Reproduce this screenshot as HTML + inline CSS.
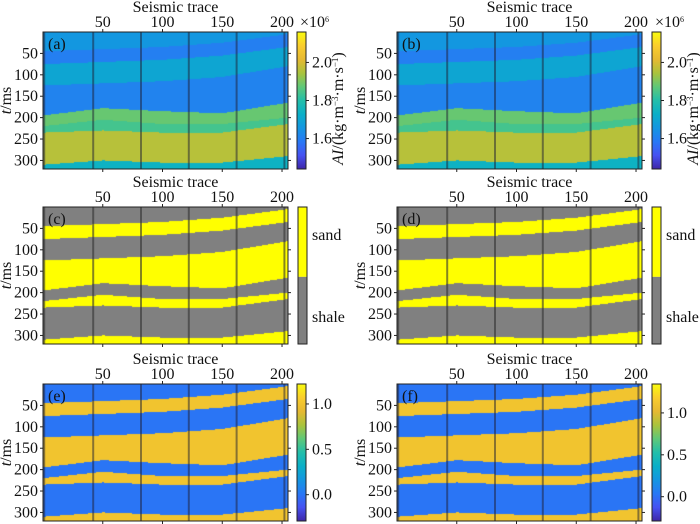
<!DOCTYPE html>
<html><head><meta charset="utf-8"><style>
body{margin:0;width:700px;height:524px;background:#fff;overflow:hidden;position:relative;font-family:"Liberation Serif",serif}
#root{position:absolute;left:0;top:0;width:700px;height:524px}
canvas{position:absolute}
svg{position:absolute;left:0;top:0}
text{font-family:"Liberation Serif",serif;font-size:16px;fill:#111}
</style></head><body>
<div id="root"></div>
<script>
// ---- data ----
const ctrlTraces=[0,50,100,150,205];
const b1=[45,40,35,25,5];
const b2=[75,70,65,55,35];
const b3=[125,120,115,105,80];
const b4=[195,178,185,190,165];
const b5=[220,205,215,215,200];
const b6=[235,230,235,235,215];
const b7=[310,300,305,305,290];
const layerSand=[0,1,0,1,0,1,0,1];
const layerAI=[1.66,1.60,1.70,1.61,1.88,1.84,1.96,1.74];
const layerProb=[0,1,0,1,0,1,0,1];
const wellTraces=[1,42,82,122,162,202];
const xTicks=[50,100,150,200];
const yTicks=[50,100,150,200,250,300];
const aiTicks=[1.6,1.8,2.0];
const probTicks=[0.0,0.5,1.0];
const bounds=[b1,b2,b3,b4,b5,b6,b7];

const parula=[[62,38,168],[70,82,242],[40,120,245],[20,150,225],[10,175,200],[35,190,170],[95,200,120],[170,195,60],[230,185,50],[250,205,45],[249,251,14]];
function cmap(t){t=Math.max(0,Math.min(1,t));const s=t*(parula.length-1);const i=Math.min(parula.length-2,Math.floor(s));const f=s-i;const a=parula[i],b=parula[i+1];return [a[0]+(b[0]-a[0])*f,a[1]+(b[1]-a[1])*f,a[2]+(b[2]-a[2])*f];}
function bAt(arr,tr){for(let i=0;i<ctrlTraces.length-1;i++){if(tr<=ctrlTraces[i+1]){const f=(tr-ctrlTraces[i])/(ctrlTraces[i+1]-ctrlTraces[i]);return arr[i]+(arr[i+1]-arr[i])*f;}}return arr[arr.length-1];}
function layerAt(tr,ms){let k=0;for(const b of bounds){if(ms>bAt(b,tr))k++;}return k;}

const T0=0,T1=205,M0=0,M1=320;
const NS="http://www.w3.org/2000/svg";
const root=document.getElementById('root');
const svg=document.createElementNS(NS,"svg");svg.setAttribute("width",700);svg.setAttribute("height",524);
root.appendChild(svg);
function el(tag,attrs,parent,txt){const e=document.createElementNS(NS,tag);for(const k in attrs)e.setAttribute(k,attrs[k]);if(txt!==undefined)e.textContent=txt;(parent||svg).appendChild(e);return e;}

const panels=[
 {id:'a',x:43,y:32,w:245,h:137,type:'ai',cbx:297,vmin:1.44,vmax:2.16},
 {id:'b',x:397,y:32,w:245,h:137,type:'ai',cbx:652,vmin:1.44,vmax:2.16},
 {id:'c',x:43,y:207,w:245,h:137,type:'lith',cbx:298},
 {id:'d',x:397,y:207,w:245,h:137,type:'lith',cbx:652},
 {id:'e',x:43,y:384,w:245,h:137,type:'prob',cbx:297,vmin:-0.29,vmax:1.22},
 {id:'f',x:397,y:384,w:245,h:137,type:'prob',cbx:652,vmin:-0.29,vmax:1.345}
];

panels.forEach(p=>{
 const xs=t=>p.x+(t-T0)/(T1-T0)*p.w;
 const ys=m=>p.y+(m-M0)/(M1-M0)*p.h;
 const cv=document.createElement('canvas');cv.width=p.w;cv.height=p.h;cv.style.left=p.x+'px';cv.style.top=p.y+'px';
 
 
 root.insertBefore(cv,svg);
 const ctx=cv.getContext('2d');const img=ctx.createImageData(p.w,p.h);
 for(let px=0;px<p.w;px++){const tr=T0+(px+0.5)/p.w*(T1-T0);
  for(let py=0;py<p.h;py++){const ms=M0+(py+0.5)/p.h*(M1-M0);const k=layerAt(tr,ms);let c;
   if(p.type==='ai'){c=cmap((layerAI[k]-p.vmin)/(p.vmax-p.vmin));}
   else if(p.type==='lith'){c=layerSand[k]?[255,255,0]:[128,128,128];}
   else {c=cmap((layerProb[k]-(-0.29))/(1.22-(-0.29)));}
   const o=(py*p.w+px)*4;img.data[o]=c[0];img.data[o+1]=c[1];img.data[o+2]=c[2];img.data[o+3]=255;}}
 ctx.putImageData(img,0,0);
 const g=el('g',{});
 wellTraces.forEach(w=>{const r=el('rect',{x:xs(w)-1,y:p.y,width:2,height:p.h,fill:p.type==='lith'?'rgba(50,50,50,0.6)':'rgba(30,30,50,0.5)'},g);
  
  });
 el('rect',{x:p.x,y:p.y,width:p.w,height:p.h,fill:'none',stroke:'#222','stroke-width':1},g);
 const lt=el('text',{x:p.x+5,y:p.y+17},g,'('+p.id+')');
 
 
 const xt=el('text',{x:p.x+p.w/2+10,y:p.y-20,'text-anchor':'middle'},g,'Seismic trace');
 
 
 xTicks.forEach(t=>{const X=xs(t);
  el('line',{x1:X,x2:X,y1:p.y,y2:p.y-3,stroke:'#222'},g);
  el('line',{x1:X,x2:X,y1:p.y+p.h,y2:p.y+p.h+3,stroke:'#222'},g);
  const tl=el('text',{x:X,y:p.y-5,'text-anchor':'middle'},g,String(t));
  
  });
 yTicks.forEach(t=>{const Y=ys(t);
  el('line',{x1:p.x,x2:p.x-3,y1:Y,y2:Y,stroke:'#222'},g);
  el('line',{x1:p.x+p.w,x2:p.x+p.w+3,y1:Y,y2:Y,stroke:'#222'},g);
  const tl=el('text',{x:p.x-5,y:Y+5,'text-anchor':'end'},g,String(t));
  
  });
 const yl=el('text',{transform:`translate(${p.x-32},${p.y+p.h/2}) rotate(-90)`,'text-anchor':'middle'},g);
 
 
 el('tspan',{'font-style':'italic'},yl,'t');el('tspan',{},yl,'/ms');
 const cb=el('g',{},g);
 const cw=9;
 if(p.type==='lith'){const mid=p.y+p.h*0.51;
  el('rect',{x:p.cbx,y:p.y,width:cw,height:mid-p.y,fill:'#ffff00'},cb);
  el('rect',{x:p.cbx,y:mid,width:cw,height:p.y+p.h-mid,fill:'#808080'},cb);
  el('rect',{x:p.cbx,y:p.y,width:cw,height:p.h,fill:'none',stroke:'#222'},cb);
  el('text',{x:p.cbx+14,y:p.y+33},cb,'sand');el('text',{x:p.cbx+14,y:p.y+115},cb,'shale');
 } else {
  const id='grad'+p.id;const lg=el('linearGradient',{id:id,x1:0,y1:1,x2:0,y2:0},el('defs',{},cb));
  for(let i=0;i<=10;i++){const c=cmap(i/10);el('stop',{offset:i/10,'stop-color':`rgb(${c.map(Math.round).join(',')})`},lg);}
  el('rect',{x:p.cbx,y:p.y,width:cw,height:p.h,fill:`url(#${id})`,stroke:'#222'},cb);
  const ticks=p.type==='ai'?aiTicks:probTicks;
  ticks.forEach(v=>{const Y=p.y+p.h-(v-p.vmin)/(p.vmax-p.vmin)*p.h;
   el('line',{x1:p.cbx+cw,x2:p.cbx+cw+3,y1:Y,y2:Y,stroke:'#222'},cb);
   el('text',{x:p.cbx+15,y:Y+5},cb,v.toFixed(1));});
  if(p.type==='ai'){
   const s=el('text',{x:p.cbx+3,y:p.y-5,'font-size':'11'},cb);s.textContent='×10';el('tspan',{'font-size':'8',dy:-5},s,'6');
   const al=el('text',{transform:`translate(${p.cbx+46},${p.y+p.h/2+8}) rotate(-90)`,'text-anchor':'middle','font-size':'14'},cb);
   el('tspan',{'font-style':'italic'},al,'AI');el('tspan',{},al,'/(kg·m');el('tspan',{'font-size':'9',dy:-5},al,'−3');el('tspan',{dy:5},al,'·m·s');el('tspan',{'font-size':'9',dy:-5},al,'−1');el('tspan',{dy:5},al,')');
  }
 }
});
</script>
</body></html>
